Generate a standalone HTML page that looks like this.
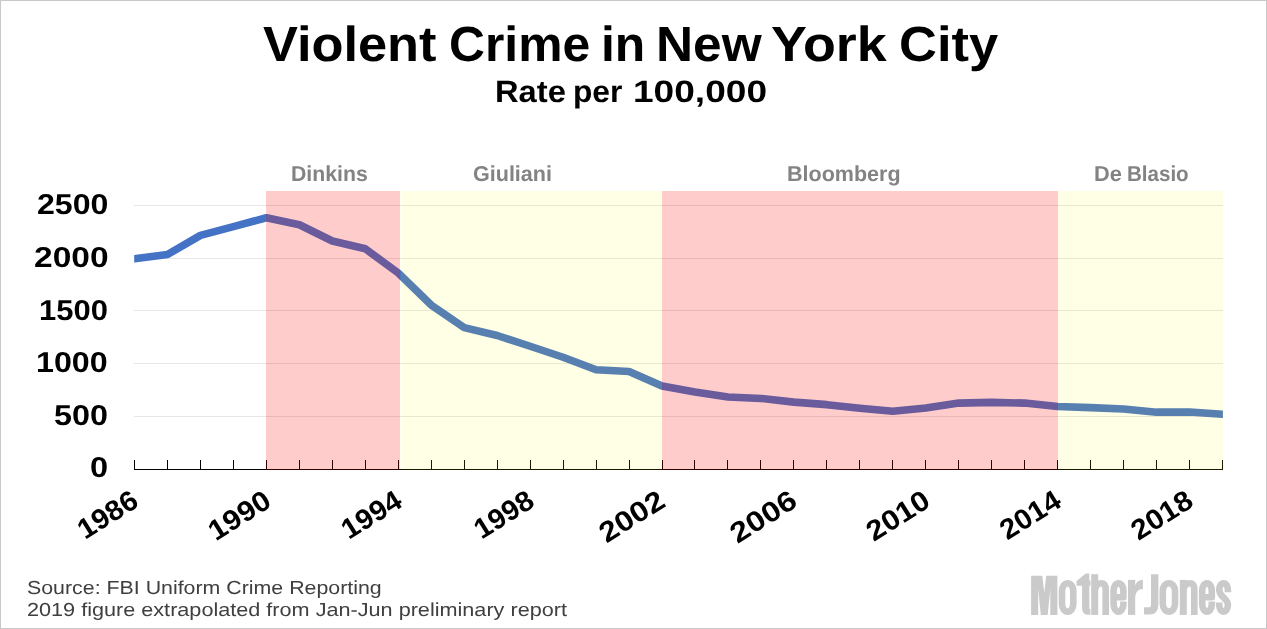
<!DOCTYPE html>
<html><head><meta charset="utf-8"><title>Violent Crime in New York City</title>
<style>
html,body{margin:0;padding:0;background:#fff;}
body{width:1267px;height:629px;position:relative;overflow:hidden;font-family:"Liberation Sans",sans-serif;}
#frame{position:absolute;left:0;top:0;width:1265px;height:627px;border:1px solid #c8c8c8;}
svg{position:absolute;left:0;top:0;}
#labels{position:absolute;left:0;top:0;width:1267px;height:629px;will-change:transform;}
.t{position:absolute;white-space:pre;text-rendering:geometricPrecision;transform-origin:0 0;font-family:"Liberation Sans",sans-serif;}
.xl{position:absolute;white-space:pre;text-rendering:geometricPrecision;font-family:"Liberation Sans",sans-serif;font-weight:bold;font-size:28.3px;line-height:28.3px;color:#000;transform-origin:100% 50%;}
</style></head><body>
<div id="frame"></div>
<svg width="1267" height="629" viewBox="0 0 1267 629">
<rect x="134" y="205" width="1089" height="1" fill="#e6e6e6"/><rect x="134" y="258" width="1089" height="1" fill="#e6e6e6"/><rect x="134" y="310" width="1089" height="1" fill="#e6e6e6"/><rect x="134" y="363" width="1089" height="1" fill="#e6e6e6"/><rect x="134" y="416" width="1089" height="1" fill="#e6e6e6"/>
<clipPath id="pc"><rect x="134.2" y="180" width="1088.7" height="300"/></clipPath>
<polyline clip-path="url(#pc)" points="129.50,259.48 134.50,258.83 167.47,254.50 200.44,235.38 233.41,226.62 266.38,217.75 299.35,224.72 332.32,240.98 365.29,248.80 398.26,272.98 431.23,305.08 464.20,327.57 497.17,335.49 530.14,346.26 563.11,357.25 596.08,369.71 629.05,371.50 662.02,386.08 694.99,391.99 727.96,396.95 760.93,398.43 793.90,402.13 826.87,404.66 859.84,408.25 892.81,411.21 925.78,408.04 958.75,403.08 991.72,402.34 1024.69,403.08 1057.66,406.46 1090.63,407.62 1123.60,408.99 1156.57,412.16 1189.54,411.95 1222.51,414.17 1227.51,414.50" fill="none" stroke="#4472c4" stroke-width="7.6" stroke-linejoin="round" stroke-linecap="butt"/>
<rect x="134" y="469" width="1089" height="1" fill="#000"/>
<rect x="134" y="460" width="1" height="10" fill="#000"/><rect x="167" y="460" width="1" height="10" fill="#000"/><rect x="200" y="460" width="1" height="10" fill="#000"/><rect x="233" y="460" width="1" height="10" fill="#000"/><rect x="266" y="460" width="1" height="10" fill="#000"/><rect x="299" y="460" width="1" height="10" fill="#000"/><rect x="332" y="460" width="1" height="10" fill="#000"/><rect x="365" y="460" width="1" height="10" fill="#000"/><rect x="398" y="460" width="1" height="10" fill="#000"/><rect x="431" y="460" width="1" height="10" fill="#000"/><rect x="464" y="460" width="1" height="10" fill="#000"/><rect x="497" y="460" width="1" height="10" fill="#000"/><rect x="530" y="460" width="1" height="10" fill="#000"/><rect x="563" y="460" width="1" height="10" fill="#000"/><rect x="596" y="460" width="1" height="10" fill="#000"/><rect x="629" y="460" width="1" height="10" fill="#000"/><rect x="662" y="460" width="1" height="10" fill="#000"/><rect x="694" y="460" width="1" height="10" fill="#000"/><rect x="727" y="460" width="1" height="10" fill="#000"/><rect x="760" y="460" width="1" height="10" fill="#000"/><rect x="793" y="460" width="1" height="10" fill="#000"/><rect x="826" y="460" width="1" height="10" fill="#000"/><rect x="859" y="460" width="1" height="10" fill="#000"/><rect x="892" y="460" width="1" height="10" fill="#000"/><rect x="925" y="460" width="1" height="10" fill="#000"/><rect x="958" y="460" width="1" height="10" fill="#000"/><rect x="991" y="460" width="1" height="10" fill="#000"/><rect x="1024" y="460" width="1" height="10" fill="#000"/><rect x="1057" y="460" width="1" height="10" fill="#000"/><rect x="1090" y="460" width="1" height="10" fill="#000"/><rect x="1123" y="460" width="1" height="10" fill="#000"/><rect x="1156" y="460" width="1" height="10" fill="#000"/><rect x="1189" y="460" width="1" height="10" fill="#000"/><rect x="1222" y="460" width="1" height="10" fill="#000"/>
<rect x="266" y="191" width="134" height="279" fill="rgba(255,0,0,0.2)"/>
<rect x="400.6" y="191" width="261.4" height="279" fill="rgba(255,255,0,0.1)"/>
<rect x="662" y="191" width="396" height="279" fill="rgba(255,0,0,0.2)"/>
<rect x="1058" y="191" width="165" height="279" fill="rgba(255,255,0,0.1)"/>
<filter id="soft" x="-5%" y="-10%" width="110%" height="120%"><feGaussianBlur stdDeviation="0.45"/></filter><g filter="url(#soft)">
<g id="mj" fill="#cacaca" stroke="none">
<path d="M1031.1,575.8 H1042.3 L1044.25,593 L1046.2,575.8 H1057.4 V614.9 H1050.3 V589 L1047.7,614.9 H1040.8 L1038.2,589 V614.9 H1031.1 Z"/>
<path d="M1076.5,581.0 L1085.8,573.5 H1089.3 V580.4 H1090.5 V585.8 H1089.3 V606 Q1089.3,609.3 1090.4,609.6 V614.6 Q1082.2,616 1082.1,608 V585.8 H1076.5 Z"/>
<path d="M1091.20,574.20 H1098.20 V614.9 H1091.20 Z"/>
<path d="M1128,579.9 H1135.2 V614.9 H1128 Z"/>
<path d="M1134.5,588 C1135.5,582.5 1138.5,579.9 1142.9,580.0 V589.4 C1138.5,589 1136,591.5 1135.2,597 Z"/>
<path d="M1179.80,579.90 H1186.80 V614.9 H1179.80 Z"/>
</g>
<g fill="none" stroke="#cacaca" stroke-linejoin="round">
<path d="M1062.00,590.70 A5.65,7.5 0 0 1 1073.30,590.70 V604.10 A5.65,7.5 0 0 1 1062.00,604.10 Z" stroke-width="6.6"/>
<path d="M1094.50,591.70 Q1095.50,583.20 1101.10,583.20 Q1105.70,583.20 1105.70,589.70 V614.9" stroke-width="6.6"/>
<path d="M1113.60,597.20 H1123.40 V590.70 A4.90,7.5 0 0 0 1113.60,590.70 V604.10 A4.90,7.5 0 0 0 1123.40,604.10 V601.60" stroke-width="6.6"/>
<path d="M1154.7,574.2 V604 Q1154.7,610.9 1149.3,610.9 H1144" stroke-width="7.4"/>
<path d="M1162.80,590.70 A6.10,7.5 0 0 1 1175.00,590.70 V604.10 A6.10,7.5 0 0 1 1162.80,604.10 Z" stroke-width="6.6"/>
<path d="M1183.10,591.70 Q1184.10,583.20 1189.70,583.20 Q1194.30,583.20 1194.30,589.70 V614.9" stroke-width="6.6"/>
<path d="M1202.20,597.20 H1211.80 V590.70 A4.80,7.5 0 0 0 1202.20,590.70 V604.10 A4.80,7.5 0 0 0 1211.80,604.10 V601.60" stroke-width="6.6"/>
<path d="M1227.90,592.20 V589.70 A4.35,6.5 0 0 0 1219.20,589.70 C1219.20,597.70 1227.90,597.10 1227.90,605.10 A4.35,6.5 0 0 1 1219.20,605.10 V602.60" stroke-width="6.6"/>
</g>
</g>
</svg>
<div id="labels">
<span class="t" style="left:262.68px;top:19.61px;font-size:49.28px;line-height:49.28px;color:#000;font-weight:bold;transform:scaleX(1.0622);">Violent</span>
<span class="t" style="left:448.51px;top:19.61px;font-size:49.28px;line-height:49.28px;color:#000;font-weight:bold;transform:scaleX(1.0103);">Crime</span>
<span class="t" style="left:600.81px;top:19.61px;font-size:49.28px;line-height:49.28px;color:#000;font-weight:bold;transform:scaleX(1.0120);">in</span>
<span class="t" style="left:656.20px;top:19.61px;font-size:49.28px;line-height:49.28px;color:#000;font-weight:bold;transform:scaleX(1.0424);">New</span>
<span class="t" style="left:771.42px;top:19.61px;font-size:49.28px;line-height:49.28px;color:#000;font-weight:bold;transform:scaleX(1.0919);">York</span>
<span class="t" style="left:898.90px;top:19.61px;font-size:49.28px;line-height:49.28px;color:#000;font-weight:bold;transform:scaleX(1.0654);">City</span>
<span class="t" style="left:494.61px;top:77.07px;font-size:30.87px;line-height:30.87px;color:#000;font-weight:bold;transform:scaleX(1.0599);">Rate</span>
<span class="t" style="left:573.48px;top:77.07px;font-size:30.87px;line-height:30.87px;color:#000;font-weight:bold;transform:scaleX(1.0269);">per</span>
<span class="t" style="left:633.17px;top:77.07px;font-size:30.87px;line-height:30.87px;color:#000;font-weight:bold;transform:scaleX(1.2016);">100,000</span>
<span class="t" style="left:291.11px;top:163.06px;font-size:21.59px;line-height:21.59px;color:#838383;font-weight:bold;transform:scaleX(0.9844);">Dinkins</span>
<span class="t" style="left:472.94px;top:163.06px;font-size:21.59px;line-height:21.59px;color:#838383;font-weight:bold;transform:scaleX(0.9977);">Giuliani</span>
<span class="t" style="left:787.19px;top:163.06px;font-size:21.59px;line-height:21.59px;color:#838383;font-weight:bold;transform:scaleX(0.9973);">Bloomberg</span>
<span class="t" style="left:1094.07px;top:163.06px;font-size:21.59px;line-height:21.59px;color:#838383;font-weight:bold;transform:scaleX(1.0093);">De</span>
<span class="t" style="left:1127.26px;top:163.06px;font-size:21.59px;line-height:21.59px;color:#838383;font-weight:bold;transform:scaleX(0.9518);">Blasio</span>
<span class="t" style="left:36.64px;top:191.18px;font-size:28.73px;line-height:28.73px;color:#000;font-weight:bold;transform:scaleX(1.1186);">2500</span>
<span class="t" style="left:33.59px;top:244.08px;font-size:28.73px;line-height:28.73px;color:#000;font-weight:bold;transform:scaleX(1.1671);">2000</span>
<span class="t" style="left:39.14px;top:296.78px;font-size:28.73px;line-height:28.73px;color:#000;font-weight:bold;transform:scaleX(1.0786);">1500</span>
<span class="t" style="left:36.47px;top:348.78px;font-size:28.73px;line-height:28.73px;color:#000;font-weight:bold;transform:scaleX(1.1213);">1000</span>
<span class="t" style="left:54.03px;top:401.88px;font-size:28.73px;line-height:28.73px;color:#000;font-weight:bold;transform:scaleX(1.1246);">500</span>
<span class="t" style="left:90.10px;top:454.08px;font-size:28.73px;line-height:28.73px;color:#000;font-weight:bold;transform:scaleX(1.1330);">0</span>
<span class="t" style="left:26.93px;top:579.17px;font-size:18.84px;line-height:18.84px;color:#404040;font-weight:normal;transform:scaleX(1.1339);">Source: FBI Uniform Crime Reporting</span>
<span class="t" style="left:26.92px;top:601.07px;font-size:18.84px;line-height:18.84px;color:#404040;font-weight:normal;transform:scaleX(1.1491);">2019 figure extrapolated from Jan-Jun preliminary report</span>
<span class="xl" style="right:1131.60px;top:482.90px;transform:rotate(-32deg) scaleX(1.033);">1986</span>
<span class="xl" style="right:998.70px;top:483.40px;transform:rotate(-32deg) scaleX(1.077);">1990</span>
<span class="xl" style="right:868.30px;top:482.60px;transform:rotate(-32deg) scaleX(1.036);">1994</span>
<span class="xl" style="right:736.50px;top:482.60px;transform:rotate(-32deg) scaleX(1.025);">1998</span>
<span class="xl" style="right:605.30px;top:482.60px;transform:rotate(-32deg) scaleX(1.136);">2002</span>
<span class="xl" style="right:472.80px;top:482.60px;transform:rotate(-32deg) scaleX(1.153);">2006</span>
<span class="xl" style="right:340.30px;top:483.40px;transform:rotate(-32deg) scaleX(1.093);">2010</span>
<span class="xl" style="right:208.60px;top:483.30px;transform:rotate(-32deg) scaleX(1.048);">2014</span>
<span class="xl" style="right:76.60px;top:483.40px;transform:rotate(-32deg) scaleX(1.061);">2018</span>
</div>
</body></html>
